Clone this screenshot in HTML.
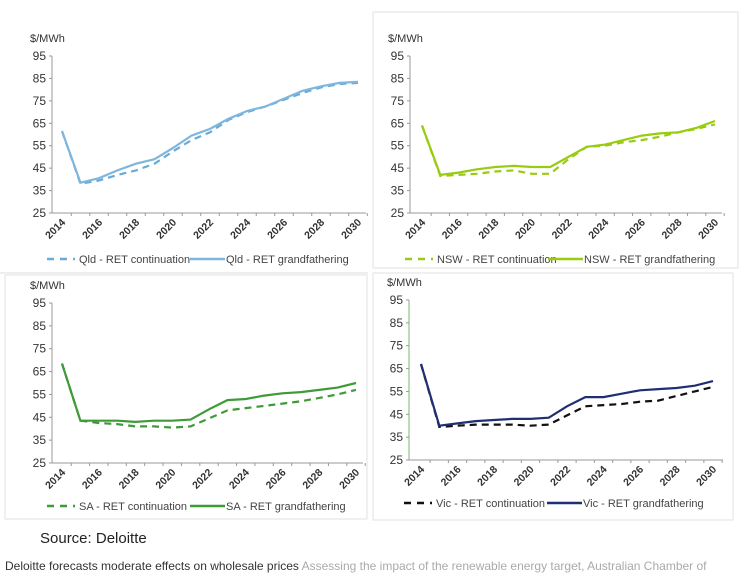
<!DOCTYPE html>
<html><head><meta charset="utf-8"><style>
body{margin:0;background:#fff;width:740px;height:573px;overflow:hidden;font-family:"Liberation Sans",sans-serif}
svg{position:absolute;left:0;top:0}
.src{position:absolute;left:40px;top:530px;font-size:15px;color:#222}
.cap{position:absolute;left:5px;top:559px;font-size:12px;color:#333;white-space:nowrap}
.cap span{color:#aaa}
</style></head><body>
<svg id="chart" width="740" height="573"></svg>
<div class="src">Source: Deloitte</div>
<div class="cap">Deloitte forecasts moderate effects on wholesale prices <span>Assessing the impact of the renewable energy target, Australian Chamber of</span></div>
<script>
const years=[2014,2015,2016,2017,2018,2019,2020,2021,2022,2023,2024,2025,2026,2027,2028,2029,2030];
const yTicks=[25,35,45,55,65,75,85,95];
const qldCont=[61.5,38,39.5,42,44,47,52.5,57.5,61,66.5,70,72.5,75.5,78.5,81,82.5,83];
const qldGrand=[61.5,38.5,40.5,44,47,49,54,59.5,62.5,67,70.5,72.5,76,79.5,81.5,83,83.5];
const nswCont=[64,41.5,42,42.5,43.5,44,42.5,42.5,49,54.5,55,56.5,57.5,59,61,62.5,64.5];
const nswGrand=[64,42,43,44.5,45.5,46,45.5,45.5,50,54.5,55.5,57.5,59.5,60.5,61,63,66];
const saCont=[68.5,43.5,42.5,42,41,41,40.5,41,44.5,48,49,50,51,52,53.5,55,57];
const saGrand=[68.5,43.5,43.5,43.5,43,43.5,43.5,44,48.5,52.5,53,54.5,55.5,56,57,58,60];
const vicCont=[67,39.5,40,40.5,40.5,40.5,40,40.5,44.5,48.5,49,49.5,50.5,51,53,55,57];
const vicGrand=[67,40,41,42,42.5,43,43,43.5,48.5,52.5,52.5,54,55.5,56,56.5,57.5,59.5];
const panels=[
 {id:'qld',name:'Qld',ax:52,x0:62,x1:358,xe:366,yt:56,yb:213,leg:259,c:'#7fb6de',cc:'#6aaad6',cont:qldCont,grand:qldGrand,box:null},
 {id:'nsw',name:'NSW',ax:410,x0:422,x1:715,xe:722,yt:56,yb:213,leg:259,c:'#99cc11',cc:'#99cc11',cont:nswCont,grand:nswGrand,box:[373,12,365,256]},
 {id:'sa',name:'SA',ax:52,x0:62,x1:356,xe:363,yt:303,yb:463,leg:506,c:'#3f9a38',cc:'#3f9a38',cont:saCont,grand:saGrand,box:[5,275,362,244]},
 {id:'vic',name:'Vic',ax:409,x0:421,x1:713,xe:723,yt:300,yb:460,leg:503,c:'#1f2f72',cc:'#111',cont:vicCont,grand:vicGrand,box:[373,273,360,247]}
];
const svg=document.getElementById('chart');
const NS='http://www.w3.org/2000/svg';
function mk(t,a,p){const e=document.createElementNS(NS,t);for(const k in a)e.setAttribute(k,a[k]);(p||svg).appendChild(e);return e;}
const sep=mk('line',{x1:0,y1:273,x2:368,y2:273,stroke:'#ddd'});


panels.forEach(p=>{
 const g=mk('g',{});
 
 
 const xs=i=>p.x0+(p.x1-p.x0)*(years[i]-years[0])/(years[years.length-1]-years[0]);
 const ys=v=>p.yb-(p.yb-p.yt)*(v-25)/70;
 if(p.box){const b=mk('rect',{x:p.box[0],y:p.box[1],width:p.box[2],height:p.box[3],fill:'none',stroke:'#e2e2e2'},g);
  }
 const u=mk('text',{x:p.ax-22,y:p.yt-14,'font-size':11,fill:'#333'},g);u.textContent='$/MWh';
 
 const ya=mk('line',{x1:p.ax,y1:p.yt,x2:p.ax,y2:p.yb,stroke:p.id=='vic'?'#7ab870':'#999'},g);
 
 const xa=mk('line',{x1:p.ax,y1:p.yb,x2:p.xe,y2:p.yb,stroke:'#999'},g);
 
 yTicks.forEach(v=>{
  mk('line',{x1:p.ax-3,y1:ys(v),x2:p.ax,y2:ys(v),stroke:'#999'},g);
  const t=mk('text',{x:p.ax-6,y:ys(v)+4,'font-size':12,'text-anchor':'end',fill:'#333'},g);t.textContent=v;
  
 });
 years.forEach((y,i)=>{
  mk('line',{x1:xs(i)+ (p.x1-p.x0)/32,y1:p.yb,x2:xs(i)+(p.x1-p.x0)/32,y2:p.yb+3,stroke:'#999'},g);
  if(i%2==0){const x=xs(i)+4,yy=p.yb+10;
   const t=mk('text',{x:x,y:yy,'font-size':10.5,'font-weight':'bold','text-anchor':'end',fill:'#333',transform:`rotate(-45 ${x} ${yy})`},g);t.textContent=y;
   }
 });
 const path=arr=>arr.map((v,i)=>(i?'L':'M')+xs(i).toFixed(1)+' '+ys(v).toFixed(1)).join(' ');
 const lc=mk('path',{d:path(p.cont),fill:'none',stroke:p.cc,'stroke-width':2.2,'stroke-dasharray':'7 5'},g);
 
 const lg=mk('path',{d:path(p.grand),fill:'none',stroke:p.c,'stroke-width':2.2},g);
 
 const L=p.ax-5;
 mk('line',{x1:L,y1:p.leg,x2:L+28,y2:p.leg,stroke:p.cc,'stroke-width':2.5,'stroke-dasharray':'7 6'},g);
 const t1=mk('text',{x:L+32,y:p.leg+4,'font-size':11,fill:'#444'},g);t1.textContent=p.name+' - RET continuation';
 
 mk('line',{x1:L+143,y1:p.leg,x2:L+178,y2:p.leg,stroke:p.c,'stroke-width':2.5},g);
 const t2=mk('text',{x:L+179,y:p.leg+4,'font-size':11,fill:'#444'},g);t2.textContent=p.name+' - RET grandfathering';
 
});
</script>
</body></html>
